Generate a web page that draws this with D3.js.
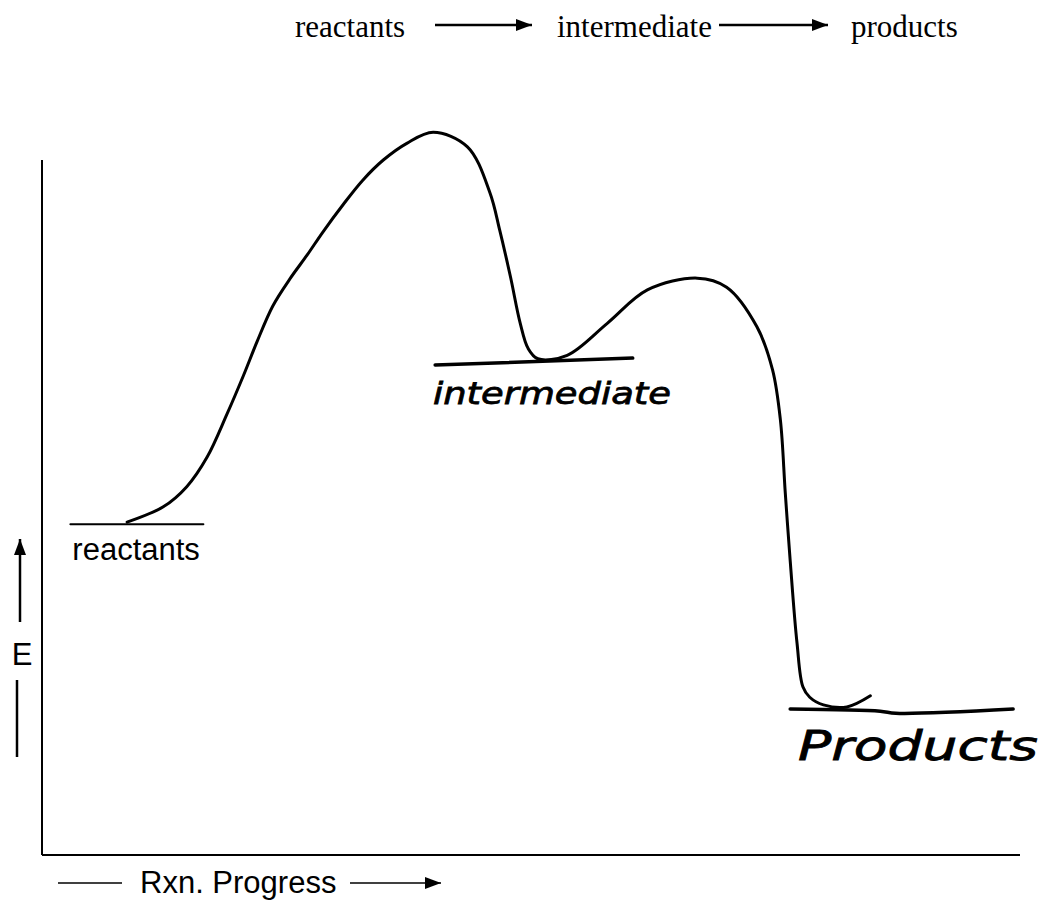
<!DOCTYPE html>
<html>
<head>
<meta charset="utf-8">
<script src="https://cdn.jsdelivr.net/npm/d3@7"></script>
<style>
	body { margin: 0; background: #fff; }
	svg { display: block; }
</style>
</head>
<body>
<div id="chart"></div>
<script>
	// reaction progress (0..100) and energy (0..100)
	var curveProgress = [8.7, 12.4, 14.8, 16.9, 18.9, 20.6, 22.0, 23.6, 25.4, 27.1, 28.7, 30.8, 32.8, 34.9,
		37.3, 40.0, 43.5, 45.8, 46.8, 47.9, 48.9, 49.7, 50.7, 53.7, 57.8, 61.9, 67.0, 70.0,
		73.1, 74.7, 75.5, 76.0, 76.5, 77.2, 77.8, 78.5, 79.9, 82.3, 84.7];
	var curveEnergy = [47.9, 50.1, 53.0, 57.3, 63.4, 69.0, 73.9, 79.0, 83.0, 86.3, 89.6, 93.6, 97.1, 100.0,
		102.4, 104.0, 101.9, 95.3, 89.9, 83.2, 76.5, 72.9, 71.4, 71.9, 76.5, 81.3, 83.0, 81.7,
		76.0, 69.8, 62.6, 52.1, 42.4, 30.5, 24.2, 22.7, 21.6, 21.3, 22.9];

	// level lines: reactants, intermediate, products
	var levelNames = ["reactants", "intermediate", "products"];
	var levelProgress = [[2.9, 16.5], [40.2, 60.4], [76.5, 85.7, 87.3, 99.3]];
	var levelEnergy = [[47.6, 47.6], [70.5, 71.5], [21.0, 20.7, 20.4, 21.0]];

	var schemeLabels = ["reactants", "intermediate", "products"];

	var width = 1042, height = 900;
	var svg = d3.select("#chart").append("svg")
		.attr("width", width).attr("height", height);

	var x = d3.scaleLinear().domain([0, 100]).range([42, 1020]);
	var y = d3.scaleLinear().domain([0, 100]).range([855, 160]);

	var defs = svg.append("defs");
	defs.append("marker").attr("id", "head")
		.attr("viewBox", "0 0 10 10").attr("refX", 10).attr("refY", 5)
		.attr("markerWidth", 16).attr("markerHeight", 12)
		.attr("preserveAspectRatio", "none")
		.attr("markerUnits", "userSpaceOnUse")
		.attr("orient", "auto")
		.append("path").attr("d", "M0,0L10,5L0,10Z").attr("fill", "#000");

	// axes (plain lines, no ticks)
	svg.append("line")
		.attr("x1", x(0)).attr("y1", y(0)).attr("x2", x(0)).attr("y2", y(100))
		.attr("stroke", "#000").attr("stroke-width", 2);
	svg.append("line")
		.attr("x1", x(0)).attr("y1", y(0)).attr("x2", x(100)).attr("y2", y(0))
		.attr("stroke", "#000").attr("stroke-width", 2);

	// energy curve
	var pts = curveProgress.map(function(p, i) { return [p, curveEnergy[i]]; });
	var line = d3.line()
		.x(function(d) { return x(d[0]); })
		.y(function(d) { return y(d[1]); })
		.curve(d3.curveCatmullRom.alpha(0.5));
	svg.append("path").attr("d", line(pts))
		.attr("fill", "none").attr("stroke", "#000")
		.attr("stroke-width", 3).attr("stroke-linecap", "round");

	// level lines
	levelNames.forEach(function(name, i) {
		var lp = levelProgress[i].map(function(p, j) { return [p, levelEnergy[i][j]]; });
		svg.append("path").attr("d", line(lp))
			.attr("fill", "none").attr("stroke", "#000")
			.attr("stroke-width", i == 0 ? 2 : 3.5).attr("stroke-linecap", "round");
	});

	// level labels
	svg.append("text").text("reactants")
		.attr("x", x(levelProgress[0][0]) + 2).attr("y", 560)
		.attr("font-family", "Liberation Sans, Arial, sans-serif").attr("font-size", "31px");
	svg.append("text").text("intermediate")
		.attr("x", 433).attr("y", 404)
		.attr("textLength", 238).attr("lengthAdjust", "spacingAndGlyphs")
		.attr("font-family", "DejaVu Sans, sans-serif").attr("font-style", "italic")
		.attr("font-size", "31px").attr("stroke", "#000").attr("stroke-width", 0.8);
	svg.append("text").text("Products")
		.attr("x", 798).attr("y", 760)
		.attr("textLength", 240).attr("lengthAdjust", "spacingAndGlyphs")
		.attr("font-family", "DejaVu Sans, sans-serif").attr("font-style", "italic")
		.attr("font-size", "40px").attr("stroke", "#000").attr("stroke-width", 0.8);

	// reaction scheme at the top
	var schemeX = [295, 557, 851];
	var arrowX = [[435, 532], [719, 828]];
	schemeLabels.forEach(function(t, i) {
		svg.append("text").text(t)
			.attr("x", schemeX[i]).attr("y", 37)
			.attr("font-family", "Liberation Serif, Times New Roman, serif").attr("font-size", "31px");
	});
	arrowX.forEach(function(a) {
		svg.append("line").attr("x1", a[0]).attr("y1", 25).attr("x2", a[1]).attr("y2", 25)
			.attr("stroke", "#000").attr("stroke-width", 2.5).attr("marker-end", "url(#head)");
	});

	// y axis title
	svg.append("line").attr("x1", 20).attr("y1", 622).attr("x2", 20).attr("y2", 539)
		.attr("stroke", "#000").attr("stroke-width", 2.5).attr("marker-end", "url(#head)");
	svg.append("text").text("E")
		.attr("x", 22).attr("y", 665).attr("text-anchor", "middle")
		.attr("font-family", "Liberation Sans, Arial, sans-serif").attr("font-size", "31px");
	svg.append("line").attr("x1", 17).attr("y1", 680).attr("x2", 17).attr("y2", 757)
		.attr("stroke", "#000").attr("stroke-width", 2.5);

	// x axis title
	svg.append("line").attr("x1", 58).attr("y1", 883).attr("x2", 122).attr("y2", 883)
		.attr("stroke", "#000").attr("stroke-width", 1.5);
	svg.append("text").text("Rxn. Progress")
		.attr("x", 140).attr("y", 893)
		.attr("font-family", "Liberation Sans, Arial, sans-serif").attr("font-size", "31px");
	svg.append("line").attr("x1", 350).attr("y1", 883).attr("x2", 441).attr("y2", 883)
		.attr("stroke", "#000").attr("stroke-width", 1.5).attr("marker-end", "url(#head)");
</script>
</body>
</html>
